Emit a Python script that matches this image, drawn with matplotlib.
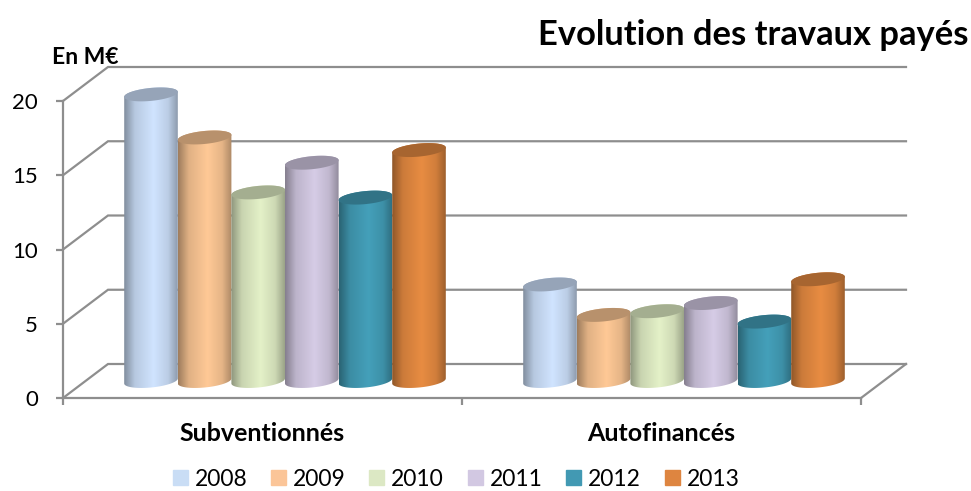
import numpy as np
import matplotlib
matplotlib.use("Agg")
import matplotlib.pyplot as plt
from matplotlib.patches import Patch, PathPatch
from matplotlib.path import Path

categories = ["Subventionnés", "Autofinancés"]
years = ["2008", "2009", "2010", "2011", "2012", "2013"]
subventionnes = [19.3, 16.4, 12.7, 14.7, 12.35, 15.55]
autofinances = [6.5, 4.45, 4.7, 5.25, 4.0, 6.85]
yTicks = [0, 5, 10, 15, 20]
colors = ["#D0E4FF", "#FFC996", "#E4F1C8", "#D6CCE6", "#44A0BA", "#E88C42"]
legendColors = ["#C9DDF5", "#FBC598", "#DCE8C4", "#D2C8E2", "#4299B3", "#DE8540"]

plt.rcParams["font.family"] = ["Lato", "DejaVu Sans"]
gridColor = "#8E8E8E"

fig = plt.figure(figsize=(9.71, 4.91), dpi=100)
# front plane of the fake 3d box, in figure fractions
# the y range goes on to 23 so the images of tall bars are not cut, the spine stops at 20
yMax = 23
pxY = 20 / 297   # data units per pixel
pxX = 2 / 798
ax = fig.add_axes([63 / 971, 1 - 398 / 491, 798 / 971, yMax / pxY / 491])

depthX = 45 * pxX
depthY = 34 * pxY
barW = 53.6 * pxX
rx = barW / 2
ry = 6.5 * pxY
tilt = 2.5 * pxY   # rise of the ellipse from left to right


def ellipse(cx, cy, t):
    return cx + rx * np.cos(t), cy + ry * np.sin(t) + tilt * np.cos(t)


def shaded(color, stops, vals):
    rgb = np.array(matplotlib.colors.to_rgb(color))
    u = np.linspace(0, 1, 120)
    f = np.interp(u, stops, vals)
    return (f[:, None] * rgb[None, :]).clip(0, 1)[None, :, :]


def drawBar(cx, value, color, z):
    base = depthY / 2
    top = base + value
    tBottom = np.linspace(np.pi, 2 * np.pi, 40)
    tAll = np.linspace(0, 2 * np.pi, 80)
    xb, yb = ellipse(cx, base, tBottom)
    xt, yt = ellipse(cx, top, tAll)
    xs = np.r_[xb, xt[:41]]
    ys = np.r_[yb, yt[:41]]
    body = PathPatch(Path(np.c_[xs, ys]), transform=ax.transData, fc="none", ec="none")
    ax.add_patch(body)
    im = ax.imshow(shaded(color, [0, 0.2, 0.55, 0.82, 1], [0.62, 0.88, 1, 0.9, 0.68]),
                   extent=[cx - rx, cx + rx, base - ry * 2, top + ry * 2],
                   aspect="auto", zorder=z, interpolation="bilinear")
    im.set_clip_path(body)
    rgb = np.array(matplotlib.colors.to_rgb(color)) * 0.72
    ax.fill(xt, yt, color=rgb, zorder=z + 0.1, lw=0, clip_on=False)


# gridlines on the back and side walls
for v in yTicks:
    ax.plot([0, depthX, 2 + depthX], [v, v + depthY, v + depthY], color=gridColor, lw=1.6,
            clip_on=False, zorder=1, solid_joinstyle="miter")
ax.plot([2, 2 + depthX], [0, depthY], color=gridColor, lw=1.6, clip_on=False, zorder=1)

groups = [subventionnes, autofinances]
for g, vals in enumerate(groups):
    center = g + 0.5 + depthX / 2
    for i, v in enumerate(vals):
        cx = center + (i - 2.5) * barW
        drawBar(cx, v, colors[i], 3 + i)

ax.set_xlim(0, 2)
ax.set_ylim(0, yMax)
ax.patch.set_visible(False)
for s in ["top", "right"]:
    ax.spines[s].set_visible(False)
for s in ["left", "bottom"]:
    ax.spines[s].set_color(gridColor)
    ax.spines[s].set_linewidth(1.6)
ax.spines["left"].set_bounds(0, 20)

ax.set_yticks(yTicks)
ax.set_xticks([0, 1, 2])
ax.set_xticklabels([])
ax.set_xticks([0.5, 1.5], minor=True)
ax.set_xticklabels(categories, minor=True, fontsize=18, fontweight="bold", color="black")
ax.tick_params(axis="x", which="major", length=5, width=1.6, color=gridColor)
ax.tick_params(axis="x", which="minor", length=0, pad=17)
ax.tick_params(axis="y", length=5, width=1.6, color=gridColor, labelsize=16, pad=13)

fig.text(968 / 971, 1 - 35 / 491, "Evolution des travaux payés", ha="right", va="center",
         fontsize=24.8, fontweight="bold")
fig.text(52 / 971, 1 - 58 / 491, "En M€", ha="left", va="center", fontsize=16.5, fontweight="bold")

handles = [Patch(color=c, label=y) for c, y in zip(legendColors, years)]
fig.legend(handles=handles, ncol=6, frameon=False, loc="center", fontsize=16.5,
           bbox_to_anchor=(456 / 971, 1 - 479 / 491), handlelength=0.65, handleheight=0.65,
           handletextpad=0.3, columnspacing=1.04)

fig.savefig("out.png", dpi=100)
